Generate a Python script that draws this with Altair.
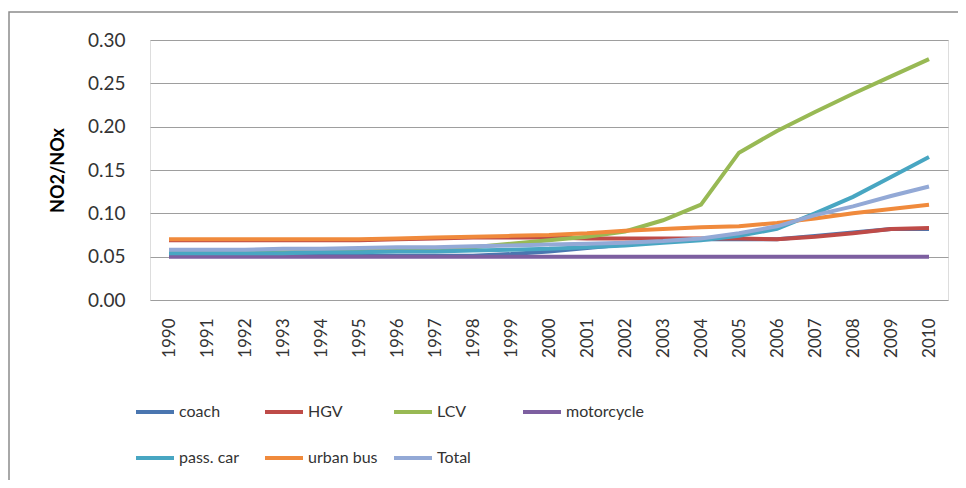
import altair as alt
import pandas as pd

years = [str(y) for y in range(1990, 2011)]
series_names = ["coach", "HGV", "LCV", "motorcycle", "pass. car", "urban bus", "Total"]
colors = ["#4A76B0", "#BE4B48", "#98B954", "#7D5FA0", "#48A6C2", "#F08A3C", "#93A9D6"]

coach = [0.051, 0.051, 0.051, 0.051, 0.051, 0.051, 0.051, 0.051, 0.051, 0.053, 0.056,
         0.060, 0.064, 0.068, 0.070, 0.070, 0.070, 0.074, 0.078, 0.082, 0.082]
hgv = [0.069, 0.069, 0.069, 0.069, 0.069, 0.069, 0.070, 0.071, 0.072, 0.072, 0.072,
       0.071, 0.071, 0.071, 0.071, 0.071, 0.070, 0.073, 0.077, 0.082, 0.083]
lcv = [0.055, 0.055, 0.055, 0.055, 0.056, 0.057, 0.058, 0.059, 0.061, 0.065, 0.069,
       0.073, 0.079, 0.092, 0.110, 0.170, 0.195, 0.217, 0.238, 0.258, 0.278]
motorcycle = [0.050] * 21
pass_car = [0.054, 0.054, 0.054, 0.054, 0.055, 0.055, 0.056, 0.056, 0.057, 0.058, 0.059,
            0.061, 0.063, 0.066, 0.069, 0.074, 0.082, 0.100, 0.119, 0.142, 0.165]
urban_bus = [0.070, 0.070, 0.070, 0.070, 0.070, 0.070, 0.071, 0.072, 0.073, 0.074, 0.075,
             0.077, 0.080, 0.082, 0.084, 0.085, 0.089, 0.094, 0.100, 0.105, 0.110]
total = [0.058, 0.058, 0.058, 0.059, 0.059, 0.060, 0.061, 0.061, 0.062, 0.063, 0.064,
         0.065, 0.066, 0.068, 0.071, 0.077, 0.085, 0.098, 0.108, 0.120, 0.131]

all_series = [coach, hgv, lcv, motorcycle, pass_car, urban_bus, total]
rows = []
for name, vals in zip(series_names, all_series):
    for y, v in zip(years, vals):
        rows.append({"year": y, "series": name, "value": v})
df = pd.DataFrame(rows)

FONT = "Lato"

frame = alt.Chart(pd.DataFrame({"a": [0]})).mark_rect(
    fill=None, stroke="#8C8C8C", strokeWidth=1.5, clip=False
).encode(
    x=alt.value(-141), x2=alt.value(900), y=alt.value(-28), y2=alt.value(500)
)

lines = alt.Chart(df).mark_line(strokeWidth=4).encode(
    x=alt.X("year:O", sort=years, scale=alt.Scale(type="point", padding=0.5),
            axis=alt.Axis(title=None, labelAngle=-90, labelFontSize=17, labelColor="#333333",
                          labelFont=FONT, labelPadding=18, ticks=False, domain=False,
                          grid=False)),
    y=alt.Y("value:Q", scale=alt.Scale(domain=[0, 0.30], nice=False),
            axis=alt.Axis(title="NO2/NOx", titleFont=FONT, titleFontSize=18, titleFontWeight="bold",
                          titleColor="#000000", titlePadding=20,
                          values=[0, 0.05, 0.10, 0.15, 0.20, 0.25, 0.30], format=".2f",
                          labelFontSize=19, labelColor="#333333", labelFont=FONT,
                          labelPadding=25, ticks=False, domain=False,
                          grid=True, gridColor="#9E9E9E", gridWidth=1.2)),
    color=alt.Color("series:N", sort=series_names,
                    scale=alt.Scale(domain=series_names, range=colors),
                    legend=alt.Legend(title=None, orient="none", legendX=-16, legendY=351,
                                      direction="horizontal", columns=4, gridAlign="all",
                                      columnPadding=0, rowPadding=17,
                                      symbolType="stroke", symbolSize=1444, symbolStrokeWidth=4,
                                      labelFontSize=16, labelFont=FONT, labelColor="#333333",
                                      labelOffset=3)),
    order=alt.Order("series_order:Q"),
    detail="series:N",
).transform_calculate(
    series_order="indexof(%s, datum.series)" % str(series_names)
)

chart = alt.layer(frame, lines).properties(
    width=798, height=260,
    autosize=alt.AutoSizeParams(type="none"),
    padding={"left": 142, "top": 32, "right": 10, "bottom": 180},
).configure_view(stroke=None).configure(background="white")

chart.save("out.html", embed_options={"renderer": "svg", "actions": False})
